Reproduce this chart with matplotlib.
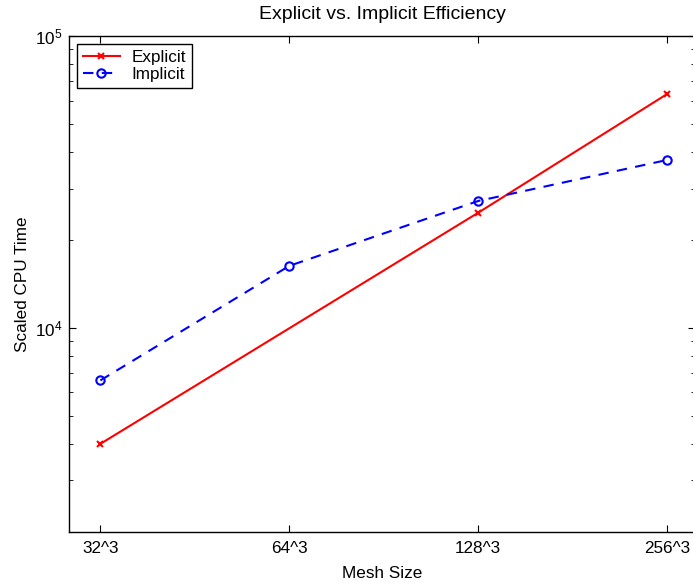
import matplotlib
matplotlib.use("Agg")
import matplotlib.pyplot as plt
from matplotlib.ticker import LogLocator, FixedLocator, NullFormatter

plt.rcParams['font.family'] = ['Liberation Sans', 'DejaVu Sans']

mesh_labels = ['32^3', '64^3', '128^3', '256^3']
explicit_x = [1, 3, 4]
explicit_vals = [4000, 24800, 63300]
implicit_x = [1, 2, 3, 4]
implicit_vals = [6600, 16300, 27200, 37600]

W, H = 693, 584
fig = plt.figure(figsize=(W / 100, H / 100), dpi=100)
left, right, top, bottom = 69, 695, 36, 531.7
ax = fig.add_axes([left / W, (H - bottom) / H, (right - left) / W, (bottom - top) / H])

ax.plot(explicit_x, explicit_vals, color='red', linestyle='-', linewidth=1.5,
        marker='x', markersize=5, markeredgewidth=1.5, label='Explicit')
ax.plot(implicit_x, implicit_vals, color='blue', linestyle='--', linewidth=1.5,
        dashes=(5, 4), marker='o', markersize=6, markerfacecolor='none',
        markeredgewidth=1.5, label='Implicit')

ax.set_yscale('log')
ax.set_ylim(2000, 1e5)
ax.set_xlim(0.834, 4.147)
ax.xaxis.set_major_locator(FixedLocator([1, 2, 3, 4]))
ax.set_xticklabels(mesh_labels)
ax.yaxis.set_major_locator(LogLocator(base=10, numticks=10))
ax.yaxis.set_minor_locator(LogLocator(base=10, subs=range(2, 10), numticks=20))
ax.yaxis.set_minor_formatter(NullFormatter())

ax.tick_params(which='both', direction='in', top=True, right=True, labelsize=12.3)
ax.tick_params(which='major', length=5, width=0.8)
ax.tick_params(which='minor', length=3, width=0.6)
ax.tick_params(axis='x', pad=7)
ax.tick_params(axis='y', pad=5)
for s in ax.spines.values():
    s.set_linewidth(1.0)

ax.set_title('Explicit vs. Implicit Efficiency', fontsize=14, pad=12)
ax.set_xlabel('Mesh Size', fontsize=12.3, labelpad=7)
ax.set_ylabel('Scaled CPU Time', fontsize=12.3, labelpad=3)

leg = ax.legend(loc='upper left', fontsize=12.3, frameon=True, fancybox=False,
                edgecolor='black', framealpha=1, handlelength=2.2,
                borderpad=0.35, labelspacing=0.15, handletextpad=0.65,
                borderaxespad=0.45)
leg.get_frame().set_linewidth(1.0)

fig.savefig('out.png', dpi=100)
